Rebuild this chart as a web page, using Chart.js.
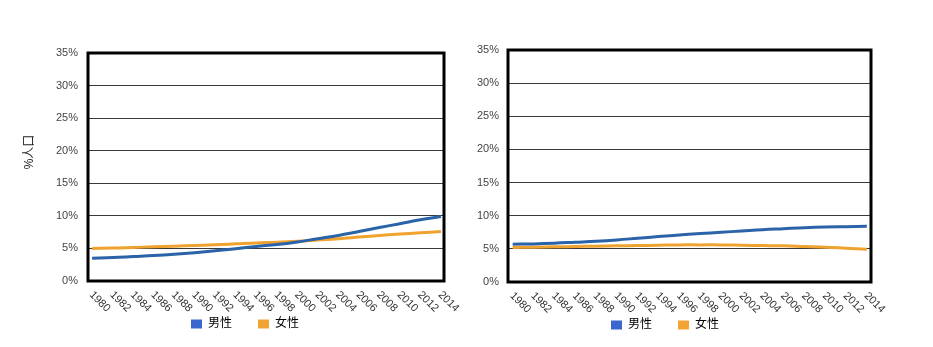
<!DOCTYPE html>
<html>
<head>
<meta charset="utf-8">
<script src="https://cdn.jsdelivr.net/npm/chart.js@4/dist/chart.umd.min.js"></script>
<style>
  body { margin: 0; background: #fff; width: 933px; height: 347px; position: relative; overflow: hidden; }
  canvas { position: absolute; top: 0; }
  #chartLeft { left: 0; }
  #chartRight { left: 440px; }
</style>
</head>
<body>
<canvas id="chartLeft" width="466" height="340"></canvas>
<canvas id="chartRight" width="493" height="341"></canvas>
<script>
// 年份 (x 轴)
const years = [1980, 1982, 1984, 1986, 1988, 1990, 1992, 1994, 1996, 1998,
               2000, 2002, 2004, 2006, 2008, 2010, 2012, 2014];
const seriesNames = ['男性', '女性'];
const yTicks = [0, 5, 10, 15, 20, 25, 30, 35];

// 左图
const leftMale   = [3.5, 3.6, 3.75, 3.9, 4.1, 4.35, 4.65, 4.95, 5.3, 5.6,
                    6.0, 6.5, 7.0, 7.6, 8.2, 8.8, 9.4, 9.9];
const leftFemale = [5.0, 5.05, 5.15, 5.25, 5.35, 5.45, 5.55, 5.7, 5.85, 5.95,
                    6.1, 6.3, 6.5, 6.75, 7.0, 7.2, 7.4, 7.6];

// 右图
const rightMale   = [5.7, 5.75, 5.85, 6.0, 6.15, 6.35, 6.6, 6.85, 7.1, 7.3,
                     7.5, 7.7, 7.9, 8.05, 8.2, 8.3, 8.35, 8.4];
const rightFemale = [5.2, 5.25, 5.3, 5.35, 5.4, 5.45, 5.5, 5.55, 5.6, 5.6,
                     5.6, 5.55, 5.5, 5.45, 5.35, 5.25, 5.1, 4.95];

const FONT = '"Liberation Sans", Arial, "Noto Sans CJK SC", sans-serif';
const lineColors = ['#2a63a8', '#efa22e'];
const boxColors = ['#3a66d0', '#f2a333'];

Chart.defaults.font.family = FONT;

// 粗黑边框
const frame = {
  id: 'frame',
  afterDraw(chart) {
    const { ctx, chartArea: a } = chart;
    ctx.save();
    ctx.strokeStyle = '#000';
    ctx.lineWidth = 3;
    ctx.strokeRect(a.left, a.top, a.right - a.left, a.bottom - a.top);
    ctx.restore();
  }
};

// 斜向年份标签
const yearLabels = {
  id: 'yearLabels',
  afterDraw(chart) {
    const { ctx, chartArea: a, scales: { x } } = chart;
    ctx.save();
    ctx.font = '11px ' + FONT;
    ctx.fillStyle = '#333';
    ctx.textAlign = 'left';
    ctx.textBaseline = 'middle';
    years.forEach(yr => {
      ctx.save();
      ctx.translate(x.getPixelForValue(yr) - 1, a.bottom + 12);
      ctx.rotate(Math.PI / 4);
      ctx.fillText(String(yr), 0, 0);
      ctx.restore();
    });
    ctx.restore();
  }
};

// 纵轴标题
const yTitle = {
  id: 'yTitle',
  afterDraw(chart, args, opts) {
    if (!opts.text) return;
    const { ctx } = chart;
    ctx.save();
    ctx.font = '12px ' + FONT;
    ctx.fillStyle = '#222';
    ctx.textAlign = 'center';
    ctx.textBaseline = 'middle';
    ctx.translate(opts.x, opts.y);
    ctx.rotate(-Math.PI / 2);
    ctx.fillText(opts.text, 0, 0);
    ctx.restore();
  }
};

function makeChart(id, male, female, cfg) {
  const values = [male, female];
  return new Chart(document.getElementById(id), {
    type: 'line',
    data: {
      datasets: seriesNames.map((name, i) => ({
        label: name,
        data: years.map((yr, j) => ({ x: yr, y: values[i][j] })),
        borderColor: lineColors[i],
        backgroundColor: boxColors[i],
        borderWidth: 3,
        pointRadius: 0,
        tension: 0.4,
        fill: false
      }))
    },
    options: {
      responsive: false,
      animation: false,
      devicePixelRatio: 1,
      layout: { padding: cfg.padding },
      scales: {
        x: {
          type: 'linear',
          min: cfg.xMin,
          max: cfg.xMax,
          ticks: { display: false },
          grid: { display: false },
          border: { display: false },
          afterFit(s) { s.height = cfg.xHeight; }
        },
        y: {
          min: yTicks[0],
          max: yTicks[yTicks.length - 1],
          afterBuildTicks(s) { s.ticks = yTicks.map(v => ({ value: v })); },
          ticks: {
            padding: cfg.tickPad,
            color: '#444',
            font: { size: 11 },
            callback: v => v + '%'
          },
          grid: { color: '#3a3a3a', lineWidth: 1, drawTicks: false },
          border: { display: false },
          afterFit(s) { s.width = cfg.yWidth; }
        }
      },
      plugins: {
        legend: {
          position: 'bottom',
          labels: {
            boxWidth: 11,
            boxHeight: 9,
            padding: 26,
            color: '#333',
            font: { size: 12 },
            generateLabels: chart => chart.data.datasets.map((d, i) => ({
              text: d.label,
              fillStyle: boxColors[i],
              strokeStyle: boxColors[i],
              lineWidth: 0,
              datasetIndex: i
            }))
          }
        },
        tooltip: { enabled: false },
        yTitle: cfg.title
      }
    },
    plugins: [frame, yearLabels, yTitle]
  });
}

makeChart('chartLeft', leftMale, leftFemale, {
  padding: { left: 46, right: 22, top: 53, bottom: 0 },
  yWidth: 42, tickPad: 10, xHeight: 11,
  xMin: 1979.6, xMax: 2014.3,
  title: { text: '%人口', x: 30, y: 152 }
});

makeChart('chartRight', rightMale, rightFemale, {
  padding: { left: 19, right: 62, top: 50, bottom: 0 },
  yWidth: 49, tickPad: 9, xHeight: 11,
  xMin: 1979.55, xMax: 2014.4,
  title: {}
});
</script>
</body>
</html>
